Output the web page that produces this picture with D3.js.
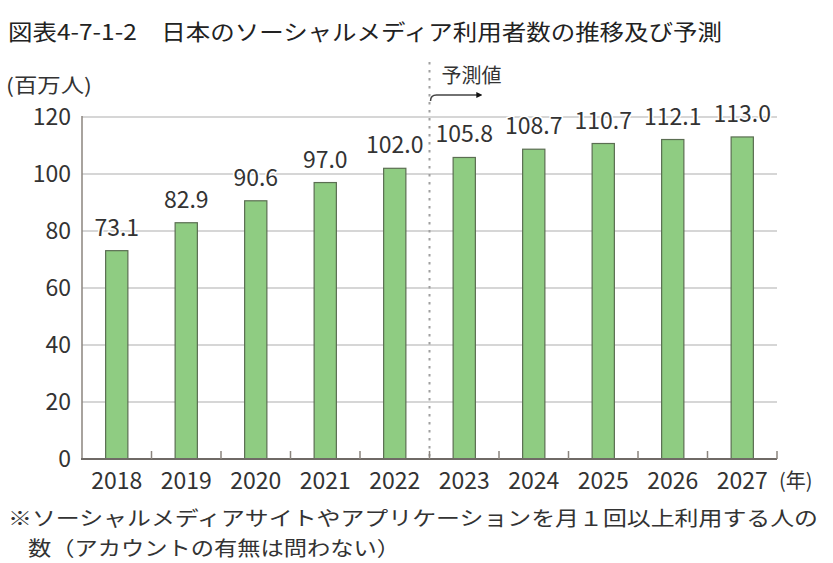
<!DOCTYPE html>
<html>
<head>
<meta charset="utf-8">
<script src="https://cdn.jsdelivr.net/npm/d3@7"></script>
<style>
  body { margin: 0; background: #fff; }
  svg { display: block; font-family: "Noto Sans CJK JP", "Noto Sans", sans-serif; }
</style>
</head>
<body>
<div class="chart-container"></div>
<script>
const years = ['2018', '2019', '2020', '2021', '2022', '2023', '2024', '2025', '2026', '2027'];
const users = [73.1, 82.9, 90.6, 97.0, 102.0, 105.8, 108.7, 110.7, 112.1, 113.0];
const yTicks = [0, 20, 40, 60, 80, 100, 120];
const forecastFrom = '2023';

const title = '図表4-7-1-2\u3000日本のソーシャルメディア利用者数の推移及び予測';
const unitLabel = '(百万人)';
const yearLabel = '(年)';
const forecastLabel = '予測値';
const noteLines = [
    '※ソーシャルメディアサイトやアプリケーションを月１回以上利用する人の',
    '数（アカウントの有無は問わない）'
];

const chartWidth = 833, chartHeight = 563;
const plotLeft = 82, plotRight = 777, plotTop = 117, plotBottom = 459;

const barFill = '#8fcc82';
const barStroke = '#5b6e52';
const gridColor = '#c9c9c9';
const axisColor = '#8b847e';
const textColor = '#333';

const svg = d3.select('.chart-container')
    .append('svg')
    .attr('width', chartWidth)
    .attr('height', chartHeight);

const x = d3.scaleBand()
    .domain(years)
    .range([plotLeft, plotRight])
    .paddingInner(0.68)
    .paddingOuter(0.34);

const y = d3.scaleLinear()
    .domain([0, 120])
    .range([plotBottom, plotTop]);

// title
svg.append('text')
    .attr('x', 8)
    .attr('y', 40)
    .attr('font-size', 22)
    .attr('fill', '#222')
    .attr('textLength', 714)
    .attr('lengthAdjust', 'spacingAndGlyphs')
    .text(title);

// grid lines
svg.append('g')
    .selectAll('line')
    .data(yTicks.filter(d => d > 0))
    .enter().append('line')
    .attr('x1', plotLeft)
    .attr('x2', plotRight)
    .attr('y1', d => y(d))
    .attr('y2', d => y(d))
    .attr('stroke', gridColor)
    .attr('stroke-width', 1.5);

// y tick labels
svg.append('g')
    .selectAll('text')
    .data(yTicks)
    .enter().append('text')
    .attr('x', 71)
    .attr('y', d => y(d))
    .attr('dy', '0.36em')
    .attr('text-anchor', 'end')
    .attr('font-size', 23)
    .attr('fill', textColor)
    .text(d => d);

svg.append('text')
    .attr('x', 6)
    .attr('y', 93)
    .attr('font-size', 20)
    .attr('fill', textColor)
    .attr('textLength', 86)
    .attr('lengthAdjust', 'spacingAndGlyphs')
    .text(unitLabel);

// forecast divider
const divX = x(forecastFrom) - x.step() * x.paddingInner() / 2;
svg.append('line')
    .attr('x1', divX)
    .attr('x2', divX)
    .attr('y1', 62)
    .attr('y2', plotBottom)
    .attr('stroke', '#a0a0a0')
    .attr('stroke-width', 2)
    .attr('stroke-dasharray', '2.5,5.5');

svg.append('defs').append('marker')
    .attr('id', 'arrow')
    .attr('viewBox', '0 0 10 10')
    .attr('refX', 2)
    .attr('refY', 5)
    .attr('markerWidth', 4)
    .attr('markerHeight', 4)
    .attr('orient', 'auto')
    .append('path')
    .attr('d', 'M0,0L10,5L0,10Z')
    .attr('fill', '#111');

svg.append('path')
    .attr('d', `M${divX + 1},101 Q${divX + 1},95 ${divX + 7},95 L${divX + 48},95`)
    .attr('fill', 'none')
    .attr('stroke', '#444')
    .attr('stroke-width', 1.5)
    .attr('marker-end', 'url(#arrow)');

svg.append('text')
    .attr('x', divX + 12)
    .attr('y', 83)
    .attr('font-size', 20)
    .attr('fill', textColor)
    .text(forecastLabel);

// bars
svg.append('g')
    .selectAll('rect')
    .data(users)
    .enter().append('rect')
    .attr('x', (d, i) => x(years[i]))
    .attr('y', d => y(d))
    .attr('width', x.bandwidth())
    .attr('height', d => y(0) - y(d))
    .attr('fill', barFill)
    .attr('stroke', barStroke)
    .attr('stroke-width', 1.2);

// value labels
svg.append('g')
    .selectAll('text')
    .data(users)
    .enter().append('text')
    .attr('x', (d, i) => x(years[i]) + x.bandwidth() / 2)
    .attr('y', d => y(d) - 15)
    .attr('text-anchor', 'middle')
    .attr('font-size', 23)
    .attr('fill', textColor)
    .attr('stroke', '#fff')
    .attr('stroke-width', 3)
    .attr('paint-order', 'stroke')
    .text(d => d.toFixed(1));

// axes
svg.append('line')
    .attr('x1', plotLeft)
    .attr('x2', plotLeft)
    .attr('y1', plotTop - 1)
    .attr('y2', plotBottom)
    .attr('stroke', axisColor)
    .attr('stroke-width', 1.5);

svg.append('line')
    .attr('x1', plotLeft - 1)
    .attr('x2', plotRight)
    .attr('y1', plotBottom)
    .attr('y2', plotBottom)
    .attr('stroke', '#6f6a66')
    .attr('stroke-width', 2);

svg.append('g')
    .selectAll('line')
    .data(years)
    .enter().append('line')
    .attr('x1', (d, i) => plotLeft + (i + 1) * x.step())
    .attr('x2', (d, i) => plotLeft + (i + 1) * x.step())
    .attr('y1', plotBottom - 8)
    .attr('y2', plotBottom)
    .attr('stroke', axisColor)
    .attr('stroke-width', 1.5);

// year labels
svg.append('g')
    .selectAll('text')
    .data(years)
    .enter().append('text')
    .attr('x', d => x(d) + x.bandwidth() / 2)
    .attr('y', 489)
    .attr('text-anchor', 'middle')
    .attr('font-size', 23)
    .attr('fill', textColor)
    .text(d => d);

svg.append('text')
    .attr('x', 779)
    .attr('y', 488)
    .attr('font-size', 20)
    .attr('fill', textColor)
    .text(yearLabel);

// note
svg.append('text')
    .attr('x', 8)
    .attr('y', 526)
    .attr('font-size', 20)
    .attr('fill', textColor)
    .attr('textLength', 810)
    .attr('lengthAdjust', 'spacingAndGlyphs')
    .text(noteLines[0]);

svg.append('text')
    .attr('x', 28)
    .attr('y', 556)
    .attr('font-size', 20)
    .attr('fill', textColor)
    .attr('textLength', 372)
    .attr('lengthAdjust', 'spacingAndGlyphs')
    .text(noteLines[1]);
</script>
</body>
</html>
